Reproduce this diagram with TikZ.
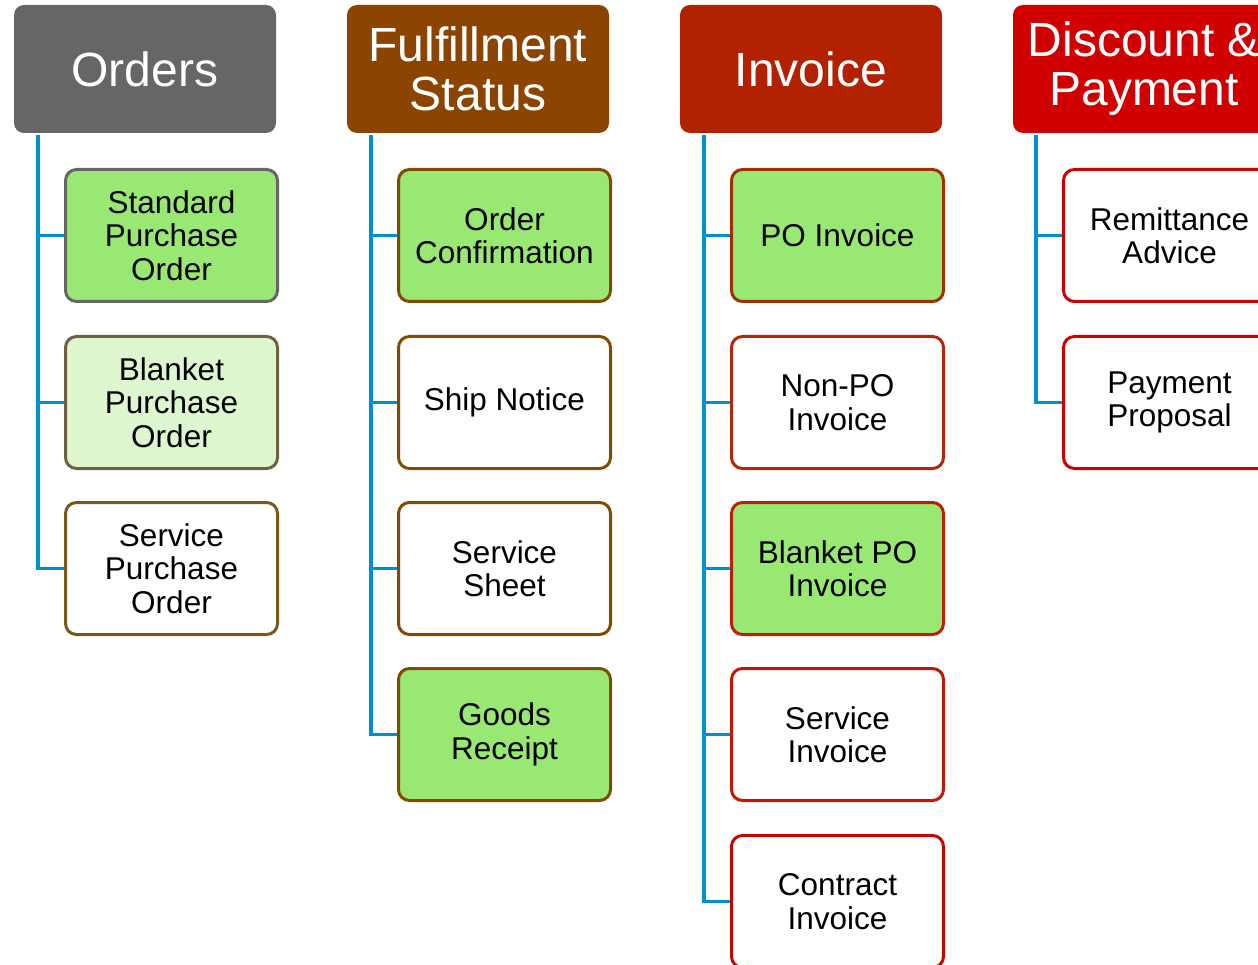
\documentclass[tikz,border=0pt]{standalone}
\usepackage{fontspec}
\setmainfont{Liberation Sans}
\definecolor{hgray}{RGB}{102,102,102}
\definecolor{hbrown}{RGB}{139,69,0}
\definecolor{hinv}{RGB}{178,34,0}
\definecolor{hdisc}{RGB}{208,0,0}
\definecolor{gfill}{RGB}{154,232,116}
\definecolor{lgfill}{RGB}{222,246,208}
\definecolor{bolive}{RGB}{110,96,64}
\definecolor{bserv}{RGB}{122,88,26}
\definecolor{bful}{RGB}{128,76,0}
\definecolor{binv1}{RGB}{160,48,0}
\definecolor{binv2}{RGB}{178,40,12}
\definecolor{binv3}{RGB}{186,32,10}
\definecolor{binv4}{RGB}{192,24,6}
\definecolor{binv5}{RGB}{196,8,0}
\definecolor{bdisc}{RGB}{204,0,0}
\definecolor{lblue}{RGB}{0,144,208}
\tikzset{
  hdr/.style={rounded corners=10pt, inner sep=0pt, minimum width=262pt, minimum height=128pt,
    text=white, align=center, font=\fontsize{48}{49}\selectfont},
  child/.style={rounded corners=11pt, line width=3pt, inner sep=0pt, minimum width=212pt,
    minimum height=132pt, fill=white, align=center, font=\fontsize{31.5}{33.5}\selectfont},
  conn/.style={draw=lblue, line width=3.5pt}
}
\begin{document}
\begin{tikzpicture}[x=1pt,y=1pt]
\useasboundingbox (0,0) rectangle (1258,-965);
\clip (0,0) rectangle (1258,-965);
% headers
\node[hdr, fill=hgray] (ord) at (145,-69) {Orders};
\node[hdr, fill=hbrown] (ful) at (478,-69) {Fulfillment\\Status};
\node[hdr, fill=hinv] (inv) at (811,-69) {Invoice};
\node[hdr, fill=hdisc] (dis) at (1144,-69) {Discount \&\\Payment};
% orders children
\node[child, draw=hgray, fill=gfill] (o1) at (171.5,-235.5) {Standard\\Purchase\\Order};
\node[child, draw=bolive, fill=lgfill] (o2) at (171.5,-402.5) {Blanket\\Purchase\\Order};
\node[child, draw=bserv] (o3) at (171.5,-568.5) {Service\\Purchase\\Order};
% fulfillment children
\node[child, draw=bful, fill=gfill] (f1) at (504.5,-235.5) {Order\\Confirmation};
\node[child, draw=bful] (f2) at (504.5,-402.5) {Ship Notice};
\node[child, draw=bful] (f3) at (504.5,-568.5) {Service\\Sheet};
\node[child, draw=bful, fill=gfill] (f4) at (504.5,-734.5) {Goods\\Receipt};
% invoice children
\node[child, draw=binv1, fill=gfill] (i1) at (837.5,-235.5) {PO Invoice};
\node[child, draw=binv2] (i2) at (837.5,-402.5) {Non-PO\\Invoice};
\node[child, draw=binv3, fill=gfill] (i3) at (837.5,-568.5) {Blanket PO\\Invoice};
\node[child, draw=binv4] (i4) at (837.5,-734.5) {Service\\Invoice};
\node[child, draw=binv5] (i5) at (837.5,-901.5) {Contract\\Invoice};
% discount children
\node[child, draw=bdisc] (d1) at (1169.5,-235.5) {Remittance\\Advice};
\node[child, draw=bdisc] (d2) at (1169.5,-402.5) {Payment\\Proposal};
% connectors
\foreach \c in {o1,o2,o3} \draw[conn] ([xshift=24pt,yshift=-2pt]ord.south west) |- (\c.west);
\foreach \c in {f1,f2,f3,f4} \draw[conn] ([xshift=24pt,yshift=-2pt]ful.south west) |- (\c.west);
\foreach \c in {i1,i2,i3,i4,i5} \draw[conn] ([xshift=24pt,yshift=-2pt]inv.south west) |- (\c.west);
\foreach \c in {d1,d2} \draw[conn] ([xshift=23pt,yshift=-2pt]dis.south west) |- (\c.west);
\end{tikzpicture}
\end{document}
